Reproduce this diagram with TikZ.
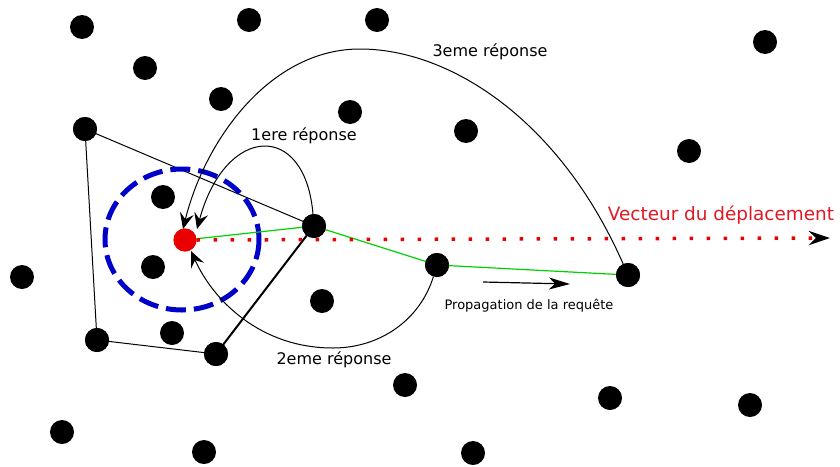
\documentclass[tikz,border=0pt]{standalone}
\usepackage{fontspec}
\setmainfont{DejaVu Sans}
\usetikzlibrary{arrows.meta,calc}
\definecolor{bluec}{RGB}{0,0,200}
\definecolor{greenc}{RGB}{0,210,0}
\definecolor{redc}{RGB}{235,0,0}
\definecolor{redtext}{RGB}{225,25,35}
\begin{document}
\begin{tikzpicture}[x=1pt,y=-1pt,
  dot/.style={circle,fill=black,minimum size=24pt,inner sep=0pt},
  reddot/.style={circle,fill=redc,minimum size=23pt,inner sep=0pt},
  lbl/.style={font=\fontsize{16}{19}\selectfont,inner sep=0pt},
  resp/.style={black,line width=1pt,-{Stealth[length=16pt,width=14pt,inset=6pt]}},
  edge/.style={black,line width=1pt}]
\useasboundingbox (0,0) rectangle (840,466);
% coordinates
\coordinate (t1) at (197,229);
\coordinate (t3) at (183,229);
\coordinate (t2) at (191,251);
\coordinate (vend) at (830,238);
\coordinate (p1) at (483,282);
\coordinate (p2) at (570,284);
% dots
\node[dot] (n1) at (82,27) {};
\node[dot] (n2) at (249,20) {};
\node[dot] (n3) at (377,20) {};
\node[dot] (n4) at (145,68) {};
\node[dot] (n5) at (765,42) {};
\node[dot] (n6) at (221,99) {};
\node[dot] (n7) at (350,112) {};
\node[dot] (n8) at (466,131) {};
\node[dot] (n9) at (85,129) {};
\node[dot] (n10) at (689,151) {};
\node[dot] (n11) at (163,197) {};
\node[dot] (n12) at (314,226) {};
\node[dot] (n13) at (153,267) {};
\node[dot] (n14) at (22,277) {};
\node[dot] (n15) at (437,265) {};
\node[dot] (n16) at (628,275) {};
\node[dot] (n17) at (322,301) {};
\node[dot] (n18) at (172,333) {};
\node[dot] (n19) at (97,340) {};
\node[dot] (n20) at (216,354) {};
\node[dot] (n21) at (405,385) {};
\node[dot] (n22) at (610,398) {};
\node[dot] (n23) at (750,405) {};
\node[dot] (n24) at (62,432) {};
\node[dot] (n25) at (204,452) {};
\node[dot] (n26) at (473,453) {};
\node[reddot] (red) at (185,240) {};
% polygon
\draw[edge] (n9.center) -- (n12.center);
\draw[edge] (n20.center) -- (n19.center) -- (n9.center);
\draw[black,line width=2pt] (n12.center) -- (n20.center);
% blue circle
\draw[bluec,line width=5pt,dash pattern=on 20pt off 8pt] (182,239.5) ellipse [x radius=77,y radius=70.5];
% green path
\draw[greenc,line width=1.2pt] (red.center) -- (n12.center) -- (n15.center) -- (n16.center);
% dotted vector
\draw[redc,line width=3.5pt,dash pattern=on 3.5pt off 13.5pt,-{Stealth[black,length=21pt,width=14pt]}] (red.east) -- (vend);
% redraw dots on top of lines
\foreach \n in {n9,n12,n15,n16,n19,n20}{\fill (\n) circle (12pt);}
\fill[redc] (red) circle (11.5pt);
% responses
\draw[resp] (n12) .. controls (305,120) and (225,125) .. (t1);
\draw[resp] (n16) .. controls (560,120) and (450,49) .. (360,49) .. controls (270,49) and (205,140) .. (t3);
\draw[resp] (n15) .. controls (420,320) and (380,348) .. (333,348) .. controls (260,348) and (213,300) .. (t2);
% propagation
\draw[line width=1.2pt,-{Stealth[length=21pt,width=12pt,inset=6pt]}] (p1) -- (p2);
% labels
\node[lbl] (l1) at (304,136) {1ere réponse};
\node[lbl] (l3) at (490,52) {3eme réponse};
\node[lbl] (l2) at (334,360) {2eme réponse};
\node[font=\fontsize{18.4}{22}\selectfont,text=redtext,inner sep=0pt] (vl) at (721,215) {Vecteur du déplacement};
\node[font=\fontsize{13}{15}\selectfont,inner sep=0pt] (pl) at (529,306) {Propagation de la requête};
\end{tikzpicture}
\end{document}
